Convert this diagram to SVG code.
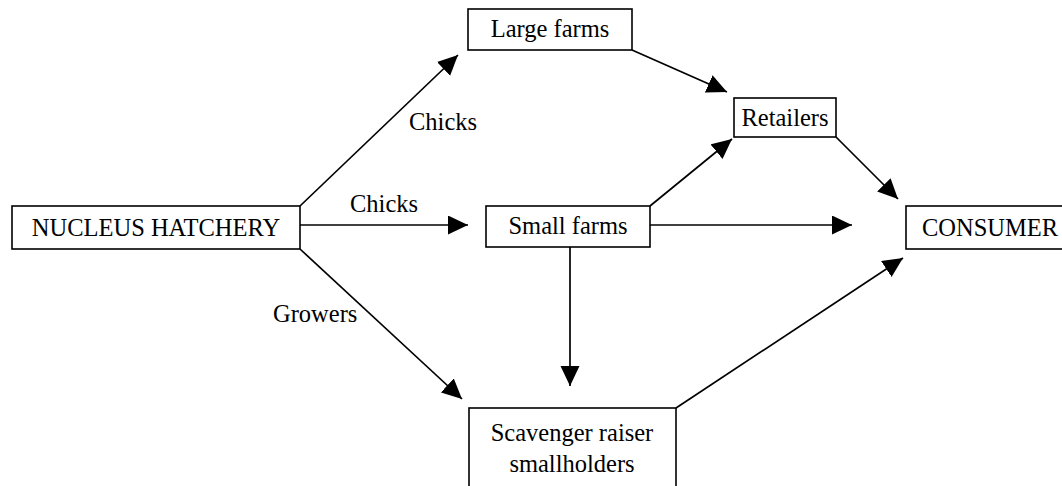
<svg xmlns="http://www.w3.org/2000/svg" width="1062" height="486" viewBox="0 0 1062 486">
<style>
.box{fill:#fff;stroke:#000;stroke-width:1.6}
.t{font-family:"Liberation Serif","Times New Roman",serif;font-size:24.5px;fill:#000}
.c{stroke:#000;stroke-width:1.7;fill:none;marker-end:url(#ah)}
</style>
<defs>
<marker id="ah" markerUnits="userSpaceOnUse" markerWidth="22" markerHeight="20" refX="20" refY="9.5" orient="auto">
<path d="M0,0 L20,9.5 L0,19 z" fill="#000"/>
</marker>
</defs>
<rect width="1062" height="486" fill="#fff"/>
<g id="connectors">
<line class="c" x1="300" y1="206" x2="458" y2="55"/>
<line class="c" x1="300" y1="225" x2="468" y2="225"/>
<line class="c" x1="300" y1="249" x2="462" y2="399"/>
<line class="c" x1="632" y1="50" x2="727" y2="92"/>
<line class="c" x1="650" y1="206" x2="732" y2="139"/>
<line class="c" x1="836" y1="137" x2="898" y2="199"/>
<line class="c" x1="650" y1="225" x2="852" y2="225"/>
<line class="c" x1="570" y1="247" x2="570" y2="386"/>
<line class="c" x1="676" y1="408" x2="903" y2="258"/>
</g>
<g id="labels">
<text class="t" x="409" y="130">Chicks</text>
<text class="t" x="350" y="212">Chicks</text>
<text class="t" x="273" y="322">Growers</text>
</g>
<g id="hatchery">
<rect class="box" x="12" y="206" width="288" height="43"/>
<text class="t" x="156" y="236" text-anchor="middle">NUCLEUS HATCHERY</text>
</g>
<g id="large-farms">
<rect class="box" x="468" y="9" width="164" height="41"/>
<text class="t" x="550" y="37" text-anchor="middle">Large farms</text>
</g>
<g id="retailers">
<rect class="box" x="734" y="98" width="102" height="39"/>
<text class="t" x="785" y="126" text-anchor="middle">Retailers</text>
</g>
<g id="small-farms">
<rect class="box" x="486" y="206" width="164" height="41"/>
<text class="t" x="568" y="234" text-anchor="middle">Small farms</text>
</g>
<g id="consumer">
<rect class="box" x="906" y="206" width="170" height="43"/>
<text class="t" x="922" y="236">CONSUMER</text>
</g>
<g id="scavenger">
<rect class="box" x="469" y="408" width="207" height="90"/>
<text class="t" x="572" y="441" text-anchor="middle">Scavenger raiser</text>
<text class="t" x="572" y="472" text-anchor="middle">smallholders</text>
</g>
</svg>
